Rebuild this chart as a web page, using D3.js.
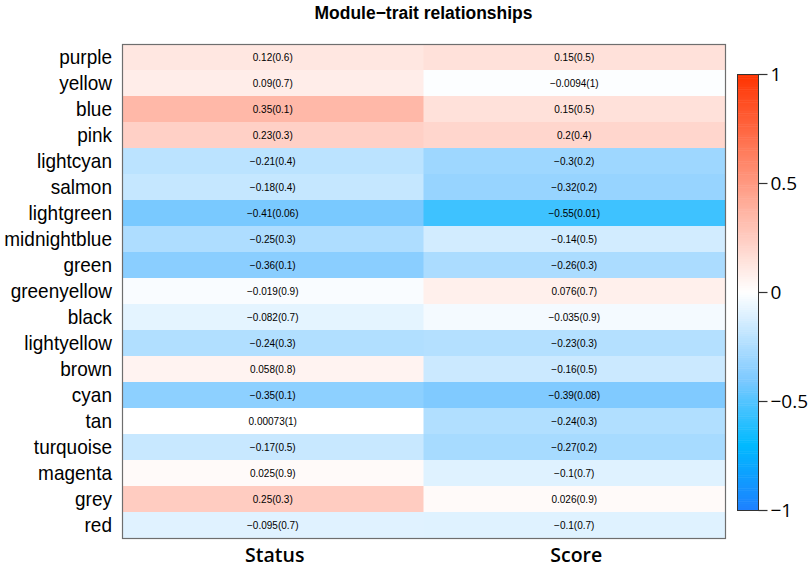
<!DOCTYPE html>
<html>
<head>
<meta charset="utf-8">
<script src="https://d3js.org/d3.v7.min.js"></script>
<style>
  html, body { margin: 0; padding: 0; background: #fff; }
  svg { display: block; }
  .rowlab { font-family: "Liberation Sans", Arial, sans-serif; font-size: 20px; fill: #000; }
  .cell-text { font-family: "Liberation Sans", Arial, sans-serif; font-size: 10px; fill: #000; }
  .title { font-family: "Liberation Sans", Arial, sans-serif; font-size: 19px; font-weight: bold; }
  .collab { font-family: "Open Sans", "Noto Sans", sans-serif; font-size: 19.5px; font-weight: 600; }
  .legend-axis text { font-family: "Open Sans", "Noto Sans", sans-serif; font-size: 19px; fill: #000; }
</style>
</head>
<body>
<div id="chart"></div>
<script>
// module eigengenes (rows, top to bottom)
const modules = ["purple", "yellow", "blue", "pink", "lightcyan", "salmon", "lightgreen",
  "midnightblue", "green", "greenyellow", "black", "lightyellow", "brown", "cyan", "tan",
  "turquoise", "magenta", "grey", "red"];

// traits (columns)
const traits = ["Status", "Score"];

// correlation and p-value per module, for each trait
const statusCor = [0.12, 0.09, 0.35, 0.23, -0.21, -0.18, -0.41, -0.25, -0.36, -0.019, -0.082,
  -0.24, 0.058, -0.35, 0.00073, -0.17, 0.025, 0.25, -0.095];
const statusP = [0.6, 0.7, 0.1, 0.3, 0.4, 0.4, 0.06, 0.3, 0.1, 0.9, 0.7, 0.3, 0.8, 0.1, 1, 0.5, 0.9, 0.3, 0.7];
const scoreCor = [0.15, -0.0094, 0.15, 0.2, -0.3, -0.32, -0.55, -0.14, -0.26, 0.076, -0.035,
  -0.23, -0.16, -0.39, -0.24, -0.27, -0.1, 0.026, -0.1];
const scoreP = [0.5, 1, 0.5, 0.4, 0.2, 0.2, 0.01, 0.5, 0.3, 0.7, 0.9, 0.3, 0.5, 0.08, 0.3, 0.2, 0.7, 0.9, 0.7];

const legendTicks = [1, 0.5, 0, -0.5, -1];

const W = 809, H = 568;
const HM = { left: 122, right: 725, top: 44, bottom: 538 };
const LEG = { left: 737, right: 758, top: 74, bottom: 510 };

// build the cell table from the arrays
const cells = [];
modules.forEach((m, i) => {
  cells.push({ module: m, trait: "Status", r: statusCor[i], p: statusP[i] });
  cells.push({ module: m, trait: "Score", r: scoreCor[i], p: scoreP[i] });
});

const minus = s => String(s).replace(/-/g, "\u2212");

const color = d3.scaleLinear()
  .domain([-1, -0.7, -0.4, 0, 0.35, 1])
  .range(["#1E80FF", "#00BAFF", "#7DC9FF", "#FFFFFF", "#FFB8A8", "#FF3300"])
  .clamp(true);

const svg = d3.select("#chart").append("svg")
  .attr("width", W)
  .attr("height", H);

const x = d3.scaleBand().domain(traits).range([HM.left, HM.right]);
const y = d3.scaleBand().domain(modules).range([HM.top, HM.bottom]);

// heatmap cells
svg.append("g")
  .selectAll("rect")
  .data(cells)
  .join("rect")
  .attr("x", d => x(d.trait))
  .attr("y", d => y(d.module))
  .attr("width", x.bandwidth() + 0.5)
  .attr("height", y.bandwidth() + 0.5)
  .attr("fill", d => color(d.r));

svg.append("g")
  .selectAll("text")
  .data(cells)
  .join("text")
  .attr("class", "cell-text")
  .attr("x", d => x(d.trait) + x.bandwidth() / 2)
  .attr("y", d => y(d.module) + y.bandwidth() / 2)
  .attr("dy", "0.35em")
  .attr("text-anchor", "middle")
  .text(d => `${minus(d.r)}(${d.p})`);

// frame
svg.append("rect")
  .attr("x", HM.left + 0.5)
  .attr("y", HM.top + 0.5)
  .attr("width", HM.right - HM.left)
  .attr("height", HM.bottom - HM.top)
  .attr("fill", "none")
  .attr("stroke", "#6e6e6e")
  .attr("stroke-width", 1.2);

// row labels (slightly condensed, as in the original)
svg.append("g")
  .selectAll("text")
  .data(modules)
  .join("text")
  .attr("class", "rowlab")
  .attr("transform", d => `translate(${HM.left - 10},${y(d) + y.bandwidth() / 2}) scale(0.95,1)`)
  .attr("dy", "0.36em")
  .attr("text-anchor", "end")
  .text(d => d);

// column labels
svg.append("g")
  .selectAll("text")
  .data(traits)
  .join("text")
  .attr("class", "collab")
  .attr("x", d => x(d) + x.bandwidth() / 2 + 2)
  .attr("y", 562)
  .attr("text-anchor", "middle")
  .text(d => d);

// title
svg.append("text")
  .attr("class", "title")
  .attr("transform", `translate(${(HM.left + HM.right) / 2},19) scale(0.92,1)`)
  .attr("text-anchor", "middle")
  .text("Module\u2212trait relationships");

// colour key
const ly = d3.scaleLinear().domain([-1, 1]).range([LEG.bottom, LEG.top]);
const steps = d3.range(-1, 1, 0.01);
svg.append("g")
  .selectAll("rect")
  .data(steps)
  .join("rect")
  .attr("x", LEG.left)
  .attr("width", LEG.right - LEG.left)
  .attr("y", d => ly(d + 0.01))
  .attr("height", d => ly(d) - ly(d + 0.01) + 0.5)
  .attr("fill", d => color(d + 0.005));

svg.append("rect")
  .attr("x", LEG.left + 0.5)
  .attr("y", LEG.top + 0.5)
  .attr("width", LEG.right - LEG.left)
  .attr("height", LEG.bottom - LEG.top)
  .attr("fill", "none")
  .attr("stroke", "#333")
  .attr("stroke-width", 1);

const legAxis = svg.append("g")
  .attr("class", "legend-axis")
  .attr("transform", `translate(${LEG.right + 0.5},0)`)
  .call(d3.axisRight(ly).tickValues(legendTicks).tickSize(9).tickPadding(3)
    .tickFormat(d => minus(d)));
legAxis.select(".domain").remove();
legAxis.selectAll(".tick line").attr("stroke", "#333").attr("stroke-width", 1.2);
</script>
</body>
</html>
